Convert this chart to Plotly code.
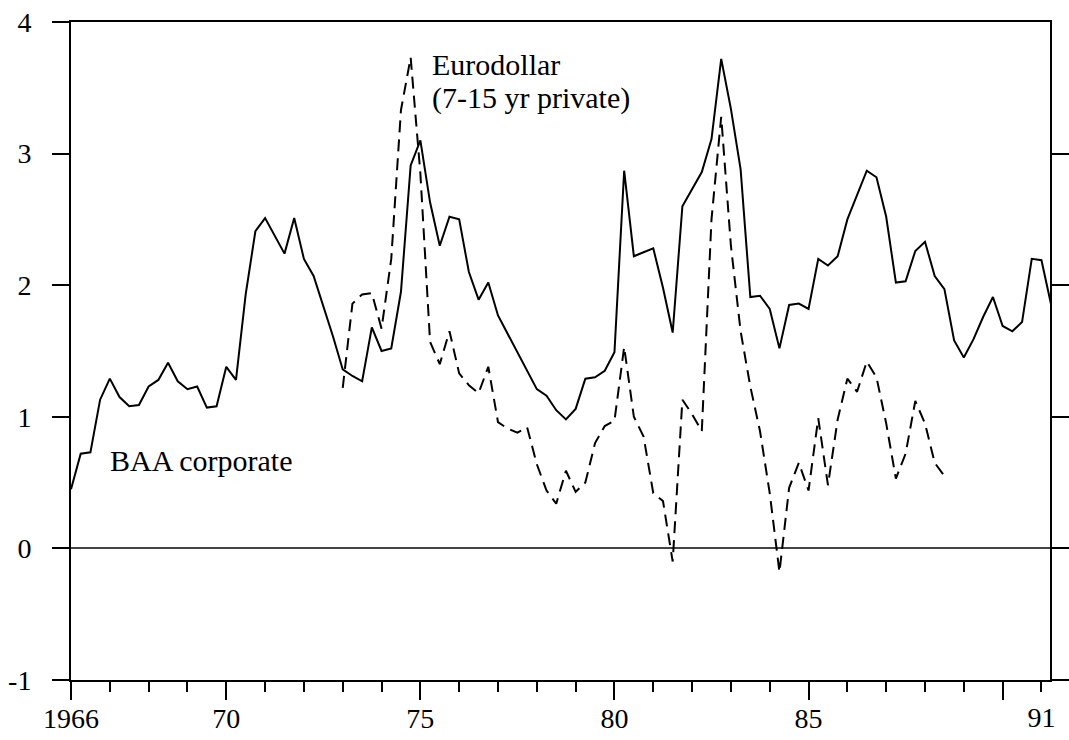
import plotly.graph_objects as go

# Quarterly data, first quarter = 1966 Q1
start_year = 1966
baa_corporate = [
    0.45, 0.72, 0.73, 1.13, 1.29, 1.15, 1.08, 1.09, 1.23, 1.28,
    1.41, 1.27, 1.21, 1.23, 1.07, 1.08, 1.38, 1.28, 1.93, 2.41,
    2.51, 2.37, 2.24, 2.51, 2.20, 2.07, 1.84, 1.61, 1.36, 1.31,
    1.27, 1.68, 1.50, 1.52, 1.95, 2.91, 3.10, 2.63, 2.30, 2.52,
    2.50, 2.10, 1.89, 2.02, 1.77, 1.63, 1.49, 1.35, 1.21, 1.16,
    1.05, 0.98, 1.06, 1.29, 1.30, 1.35, 1.49, 2.87, 2.22, 2.25,
    2.28, 1.98, 1.64, 2.60, 2.73, 2.86, 3.11, 3.72, 3.34, 2.88,
    1.91, 1.92, 1.82, 1.52, 1.85, 1.86, 1.82, 2.20, 2.15, 2.22,
    2.50, 2.69, 2.87, 2.82, 2.52, 2.02, 2.03, 2.26, 2.33, 2.07,
    1.97, 1.58, 1.45, 1.59, 1.76, 1.91, 1.69, 1.65, 1.72, 2.20,
    2.19, 1.85,
]
# Eurodollar series starts at 1973 Q1 (quarter index 28)
euro_start_index = 28
eurodollar = [
    1.22, 1.86, 1.93, 1.94, 1.67, 2.20, 3.33, 3.73, 2.85, 1.57,
    1.40, 1.65, 1.33, 1.24, 1.18, 1.38, 0.96, 0.91, 0.88, 0.92,
    0.64, 0.44, 0.34, 0.59, 0.43, 0.50, 0.80, 0.93, 0.97, 1.53,
    1.00, 0.85, 0.42, 0.36, -0.10, 1.13, 1.02, 0.89, 2.50, 3.28,
    2.30, 1.65, 1.23, 0.89, 0.42, -0.18, 0.46, 0.65, 0.44, 0.99,
    0.48, 0.98, 1.29, 1.19, 1.42, 1.30, 0.95, 0.53, 0.72, 1.12,
    0.95, 0.65, 0.55,
]

major_ticks = [1966, 1970, 1975, 1980, 1985, 1990]
major_labels = ["1966", "70", "75", "80", "85", ""]
minor_ticks = [y for y in range(1967, 1992) if y not in major_ticks]
end_ticks = [1991]
end_labels = ["91"]
y_ticks = [-1, 0, 1, 2, 3, 4]
y_labels = ["-1", "0", "1", "2", "3", "4"]
right_ticks = [-1, 0, 1, 2, 3]

baa_x = [start_year + i / 4 for i in range(len(baa_corporate))]
euro_x = [start_year + (euro_start_index + i) / 4 for i in range(len(eurodollar))]

FONT = "Liberation Serif"
x_range = [1966, 1991.22]
y_range = [-1, 4]

fig = go.Figure()
fig.add_trace(go.Scatter(x=baa_x, y=baa_corporate, mode="lines",
                         line=dict(color="black", width=2),
                         name="BAA corporate", showlegend=False))
fig.add_trace(go.Scatter(x=euro_x, y=eurodollar, mode="lines",
                         xaxis="x2", yaxis="y2",
                         line=dict(color="black", width=2, dash="12px,7px"),
                         name="Eurodollar", showlegend=False))

fig.update_layout(
    width=1069, height=740,
    margin=dict(l=71, r=19, t=22, b=60),
    paper_bgcolor="white", plot_bgcolor="white",
    font=dict(family=FONT, color="black", size=28),
    xaxis=dict(
        range=x_range, showgrid=False, zeroline=False, automargin=False,
        showline=True, linecolor="black", linewidth=2, mirror=True,
        tickmode="array", tickvals=major_ticks, ticktext=major_labels,
        ticks="outside", ticklen=18, tickwidth=2, tickcolor="black",
        ticklabelstandoff=-6,
        minor=dict(tickmode="array", tickvals=minor_ticks, ticks="outside",
                   ticklen=10, tickwidth=2, tickcolor="black", showgrid=False),
        tickfont=dict(family=FONT, size=28, color="black"),
    ),
    xaxis2=dict(
        range=x_range, overlaying="x", anchor="y", side="bottom",
        showgrid=False, zeroline=False, showline=False, automargin=False,
        tickmode="array", tickvals=end_ticks, ticktext=end_labels,
        ticks="outside", ticklen=10, tickwidth=2, tickcolor="black",
        ticklabelstandoff=2,
        tickfont=dict(family=FONT, size=28, color="black"),
    ),
    yaxis=dict(
        range=y_range, showgrid=False, automargin=False,
        zeroline=True, zerolinecolor="#444", zerolinewidth=1.5,
        showline=True, linecolor="black", linewidth=2, mirror=True,
        tickmode="array", tickvals=y_ticks, ticktext=y_labels,
        ticks="outside", ticklen=17, tickwidth=2, tickcolor="black",
        ticklabelstandoff=15,
        tickfont=dict(family=FONT, size=28, color="black"),
    ),
    yaxis2=dict(
        range=y_range, overlaying="y", anchor="x", side="right",
        showgrid=False, zeroline=False, showline=False, automargin=False,
        tickmode="array", tickvals=right_ticks, showticklabels=False,
        ticks="outside", ticklen=18, tickwidth=2, tickcolor="black",
    ),
    annotations=[
        dict(x=1975.245, y=3.68, xref="x", yref="y", text="Eurodollar",
             showarrow=False, xanchor="left", yanchor="middle",
             font=dict(family=FONT, size=30, color="black")),
        dict(x=1975.245, y=3.425, xref="x", yref="y", text="(7-15 yr private)",
             showarrow=False, xanchor="left", yanchor="middle",
             font=dict(family=FONT, size=30, color="black")),
        dict(x=1966.95, y=0.67, xref="x", yref="y", text="BAA corporate",
             showarrow=False, xanchor="left", yanchor="middle",
             font=dict(family=FONT, size=30, color="black")),
    ],
)

fig.write_html("out.html")
